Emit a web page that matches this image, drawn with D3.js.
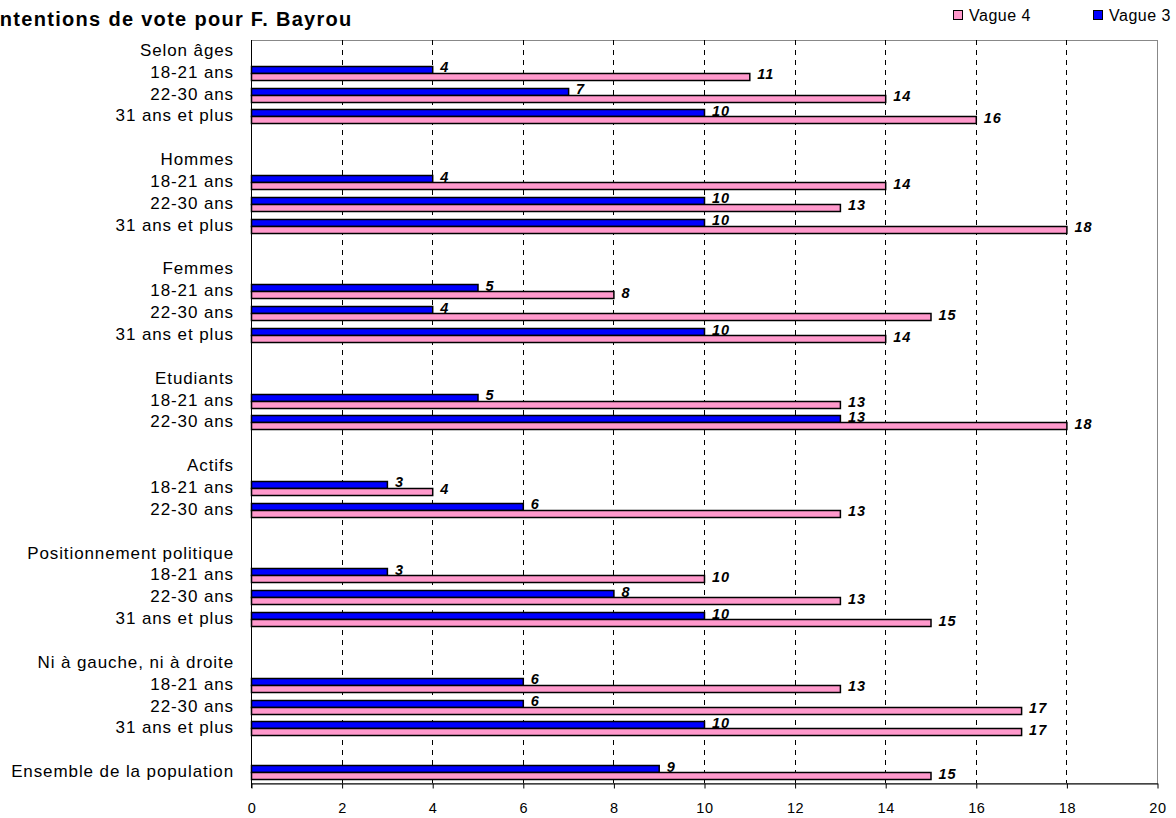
<!DOCTYPE html>
<html><head><meta charset="utf-8">
<script src="https://cdn.jsdelivr.net/npm/d3@7"></script>
<style>body{margin:0;background:#fff;} text{font-family:"Liberation Sans",Arial,sans-serif;}</style>
</head><body>
<svg id="c" width="1176" height="818"></svg>
<script>
const categories = ["Selon âges","18-21 ans","22-30 ans","31 ans et plus","",
 "Hommes","18-21 ans","22-30 ans","31 ans et plus","",
 "Femmes","18-21 ans","22-30 ans","31 ans et plus","",
 "Etudiants","18-21 ans","22-30 ans","",
 "Actifs","18-21 ans","22-30 ans","",
 "Positionnement politique","18-21 ans","22-30 ans","31 ans et plus","",
 "Ni à gauche, ni à droite","18-21 ans","22-30 ans","31 ans et plus","",
 "Ensemble de la population"];
const vague3 = [null,4,7,10,null, null,4,10,10,null, null,5,4,10,null, null,5,13,null, null,3,6,null, null,3,8,10,null, null,6,6,10,null, 9];
const vague4 = [null,11,14,16,null, null,14,13,18,null, null,8,15,14,null, null,13,18,null, null,4,13,null, null,10,13,15,null, null,13,17,17,null, 15];
const xTicks = [0,2,4,6,8,10,12,14,16,18,20];
const seriesNames = ["Vague 4","Vague 3"];
const colors = {"Vague 3":"#0000ff","Vague 4":"#ff99cc"};

const svg = d3.select("#c");
const L = 251, R = 1157, T = 40, B = 783;
const x = d3.scaleLinear().domain([0,20]).range([L,R]);
const y = d3.scaleBand().domain(d3.range(categories.length)).range([T,B]);
const bh = 7;

// plot border
svg.append("rect").attr("x",L+0.5).attr("y",T+0.5).attr("width",R-L).attr("height",B-T)
  .attr("fill","none").attr("stroke","#888").attr("stroke-width",1);
// gridlines
svg.selectAll(".grid").data(xTicks.filter(d=>d>0&&d<20)).enter().append("line")
  .attr("x1",d=>Math.round(x(d))+0.5).attr("x2",d=>Math.round(x(d))+0.5)
  .attr("y1",T).attr("y2",B).attr("stroke","#000").attr("stroke-dasharray","5,5");

// x axis
const xa = svg.append("g").attr("transform",`translate(0.5,${B+0.5})`)
  .call(d3.axisBottom(x).tickValues(xTicks).tickSize(5).tickSizeOuter(0));
xa.attr("font-size",null).attr("font-family",null);
xa.select(".domain").attr("stroke","#000");
xa.selectAll(".tick line").attr("stroke","#000");
xa.selectAll("text").style("font-size","14.5px").attr("fill","#000").attr("y",29).attr("dy",null)
  .attr("letter-spacing","0.6px")
  .style("font-family","Liberation Sans, Arial, sans-serif");
// y axis line
svg.append("line").attr("x1",L+0.5).attr("x2",L+0.5).attr("y1",T).attr("y2",B+5).attr("stroke","#000");

// category labels
svg.selectAll(".cat").data(categories).enter().append("text")
  .attr("x",L-17).attr("y",(d,i)=>y(i)+y.bandwidth()/2+5)
  .attr("text-anchor","end").attr("font-size","17px").attr("letter-spacing","0.9px").attr("fill","#000")
  .text(d=>d);

function drawSeries(vals, name, off){
  const data = vals.map((v,i)=>({v,i})).filter(d=>d.v!=null);
  svg.selectAll(".b"+off).data(data).enter().append("rect")
    .attr("x",L+0.5).attr("y",d=>Math.round(y(d.i)+y.bandwidth()/2+off)+0.5)
    .attr("width",d=>x(d.v)-L).attr("height",bh)
    .attr("fill",colors[name]).attr("stroke","#000").attr("stroke-width",1.5);
  svg.selectAll(".l"+off).data(data).enter().append("text")
    .attr("x",d=>x(d.v)+8).attr("y",d=>y(d.i)+y.bandwidth()/2+off+bh-0.5)
    .attr("font-size","14.5px").attr("font-weight","bold").attr("font-style","italic").attr("fill","#000")
    .attr("letter-spacing","1px")
    .text(d=>d.v);
}
drawSeries(vague3,"Vague 3",-bh);
drawSeries(vague4,"Vague 4",0);

// title
svg.append("text").attr("x",-7).attr("y",26).attr("font-size","20px").attr("font-weight","bold")
  .attr("letter-spacing","1.3px").attr("fill","#000").text("Intentions de vote pour F. Bayrou");

// legend
const legendX = {"Vague 4":953,"Vague 3":1093};
seriesNames.forEach(n=>{
  const xx = legendX[n];
  svg.append("rect").attr("x",xx+0.5).attr("y",10.5).attr("width",9).attr("height",9)
    .attr("fill",colors[n]).attr("stroke","#000");
  svg.append("text").attr("x",xx+16).attr("y",20.5).attr("font-size","16px").attr("letter-spacing","0.5px")
    .attr("fill","#000").text(n);
});
</script>
</body></html>
